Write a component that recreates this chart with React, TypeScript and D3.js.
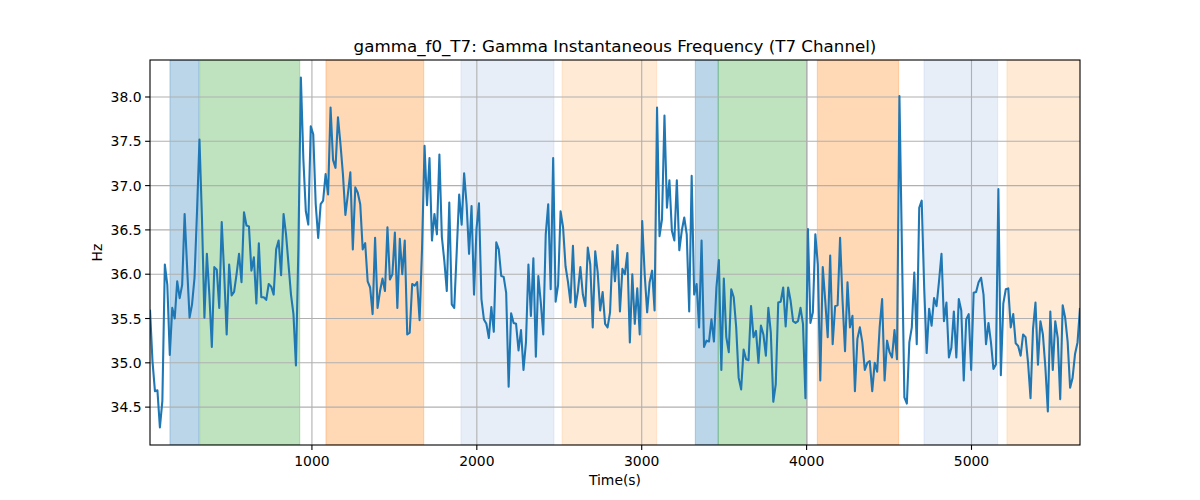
import * as d3 from "d3";

// gamma f0 samples, one every DT seconds starting at T0
const T0 = 18;
const DT = 15;
const hz = [
  35.6, 35.02, 34.68, 34.69, 34.27, 34.57, 36.11, 35.88, 35.09, 35.62,
  35.5, 35.92, 35.73, 35.88, 36.68, 36.08, 35.51, 35.66, 35.96, 36.7,
  37.52, 36.64, 35.51, 36.23, 35.77, 35.18, 36.08, 36.05, 35.62, 36.59,
  36.0, 35.32, 36.11, 35.76, 35.8, 36.0, 36.23, 35.91, 36.7, 36.55,
  36.54, 36.04, 36.19, 35.67, 36.35, 35.74, 35.74, 35.71, 35.89, 35.86,
  35.77, 36.28, 36.38, 35.99, 36.68, 36.45, 36.11, 35.77, 35.55, 34.97,
  36.3, 38.22, 37.3, 36.71, 36.56, 37.67, 37.58, 36.79, 36.41, 36.79,
  36.83, 37.13, 36.9, 37.88, 37.29, 37.2, 37.77, 37.47, 37.13, 36.67,
  36.9, 37.15, 36.28, 36.98, 36.92, 36.79, 36.28, 36.35, 35.92, 35.85,
  35.55, 36.41, 35.62, 35.81, 35.95, 35.81, 36.53, 35.94, 36.0, 36.47,
  35.62, 36.4, 36.0, 36.38, 35.32, 35.34, 35.89, 35.87, 35.91, 35.48,
  36.3, 37.45, 36.78, 37.31, 36.38, 36.68, 36.45, 37.35, 36.42, 36.15,
  35.81, 36.81, 35.66, 35.62, 36.25, 36.9, 36.56, 37.14, 36.79, 36.23,
  36.77, 35.77, 36.51, 36.8, 35.72, 35.49, 35.44, 35.28, 35.63, 35.35,
  36.36, 36.28, 35.98, 35.97, 35.79, 34.73, 35.56, 35.45, 35.44, 35.14,
  35.37, 34.92, 35.23, 36.11, 35.53, 36.18, 35.07, 35.98, 35.68, 35.32,
  36.45, 36.79, 35.83, 37.31, 35.69, 35.88, 36.71, 36.53, 36.09, 35.91,
  35.68, 36.32, 35.63, 35.81, 36.08, 35.77, 35.64, 36.3, 36.11, 35.4,
  36.26, 36.02, 35.59, 35.8, 35.44, 35.4, 35.57, 36.26, 35.92, 36.33,
  35.58, 36.06, 36.0, 36.24, 35.23, 36.0, 35.44, 35.84, 35.32, 36.6,
  36.0, 35.57, 35.91, 36.04, 35.59, 37.88, 36.43, 36.62, 37.79, 36.75,
  37.06, 36.49, 36.38, 37.06, 36.27, 36.49, 36.64, 36.45, 35.58, 37.11,
  35.77, 35.89, 35.4, 36.38, 35.18, 35.25, 35.24, 35.49, 35.24, 35.85,
  36.16, 34.92, 35.95, 35.29, 35.12, 35.83, 35.74, 35.4, 34.83, 34.7,
  35.15, 35.04, 35.03, 35.64, 35.29, 35.36, 35.0, 35.42, 35.32, 35.08,
  35.62, 35.34, 34.56, 34.76, 35.68, 35.69, 35.85, 35.41, 35.85, 35.7,
  35.47, 35.45, 35.47, 35.62, 35.44, 34.6, 36.51, 35.45, 35.57, 36.45,
  36.11, 34.8, 36.08, 35.7, 35.29, 36.21, 35.21, 35.64, 35.65, 36.41,
  35.7, 35.13, 35.91, 35.4, 35.53, 34.68, 35.27, 35.4, 35.23, 34.92,
  35.0, 35.02, 34.68, 35.0, 34.9, 35.4, 35.72, 34.8, 35.25, 35.12,
  35.06, 35.37, 35.04, 38.01, 36.3, 34.61, 34.54, 35.23, 35.4, 36.02,
  35.21, 36.75, 36.83, 35.85, 35.11, 35.61, 35.42, 35.73, 35.64, 35.92,
  36.23, 35.47, 35.68, 35.06, 35.17, 35.58, 35.06, 35.72, 35.59, 34.8,
  35.49, 35.55, 34.92, 35.79, 35.8, 35.91, 35.96, 35.77, 35.21, 35.45,
  35.23, 34.93, 34.98, 36.96, 34.86, 35.67, 35.83, 35.84, 35.4, 35.55,
  35.22, 35.19, 35.08, 35.32, 35.29, 35.0, 34.6, 35.38, 35.68, 34.98,
  35.47, 35.32, 34.95, 34.45, 35.58, 34.92, 35.47, 35.28, 34.59, 35.65,
  35.51, 35.24, 34.72, 34.83, 35.1, 35.23, 35.62,
];

const xTicks = [1000, 2000, 3000, 4000, 5000];
const yTicks = [34.5, 35.0, 35.5, 36.0, 36.5, 37.0, 37.5, 38.0];

// shaded condition periods (seconds)
const spanStart = [139, 319, 1085, 1904, 2517, 3325, 3464, 4065, 4712, 5215];
const spanEnd = [313, 926, 1678, 2468, 3091, 3464, 4004, 4558, 5159, 5670];
const spanKind = ["b", "g", "o", "lb", "lo", "b", "g", "o", "lb", "lo"];

const kindColor: Record<string, string> = {
  b: "#1f77b4",
  g: "#2ca02c",
  o: "#ff7f0e",
  lb: "#aec7e8",
  lo: "#ffbb78",
};

const width = 1200;
const height = 500;
const left = 150;
const right = 1080;
const top = 60;
const bottom = 445;
const font = "DejaVu Sans, sans-serif";

export default function App() {
  const times = hz.map((_, i) => T0 + i * DT);
  const x = d3
    .scaleLinear()
    .domain([times[0], times[times.length - 1]])
    .range([left, right]);

  const [lo, hi] = d3.extent(hz) as [number, number];
  const pad = (hi - lo) * 0.05;
  const y = d3
    .scaleLinear()
    .domain([lo - pad, hi + pad])
    .range([bottom, top]);

  const line = d3
    .line<number>()
    .x((_, i) => x(times[i]))
    .y((d) => y(d));

  return (
    <svg
      width={width}
      height={height}
      style={{ position: "absolute", left: 0, top: 0, background: "#fff" }}
    >
      <defs>
        <clipPath id="plot">
          <rect x={left} y={top} width={right - left} height={bottom - top} />
        </clipPath>
      </defs>
      <g clipPath="url(#plot)">
        {spanStart.map((s, i) => (
          <rect
            key={i}
            x={x(s)}
            y={top}
            width={x(spanEnd[i]) - x(s)}
            height={bottom - top}
            fill={kindColor[spanKind[i]]}
            fillOpacity={0.3}
            stroke={kindColor[spanKind[i]]}
            strokeOpacity={0.3}
            strokeWidth={1}
          />
        ))}
        {xTicks.map((t) => (
          <line key={t} x1={x(t)} x2={x(t)} y1={top} y2={bottom} stroke="#b0b0b0" strokeWidth={1.1} />
        ))}
        {yTicks.map((t) => (
          <line key={t} x1={left} x2={right} y1={y(t)} y2={y(t)} stroke="#b0b0b0" strokeWidth={1.1} />
        ))}
        <path
          d={line(hz) as string}
          fill="none"
          stroke="#1f77b4"
          strokeWidth={2.08}
          strokeLinejoin="round"
        />
      </g>
      <rect x={left} y={top} width={right - left} height={bottom - top} fill="none" stroke="#000" strokeWidth={1.1} />
      {xTicks.map((t) => (
        <g key={t}>
          <line x1={x(t)} x2={x(t)} y1={bottom} y2={bottom + 4.9} stroke="#000" strokeWidth={1.1} />
          <text x={x(t)} y={466} textAnchor="middle" fontFamily={font} fontSize={13.9} fill="#000">
            {t}
          </text>
        </g>
      ))}
      {yTicks.map((t) => (
        <g key={t}>
          <line x1={left - 4.9} x2={left} y1={y(t)} y2={y(t)} stroke="#000" strokeWidth={1.1} />
          <text x={left - 8.5} y={y(t) + 5} textAnchor="end" fontFamily={font} fontSize={13.9} fill="#000">
            {t.toFixed(1)}
          </text>
        </g>
      ))}
      <text x={(left + right) / 2} y={485} textAnchor="middle" fontFamily={font} fontSize={13.9} fill="#000">
        Time(s)
      </text>
      <text
        transform={`translate(102,${(top + bottom) / 2}) rotate(-90)`}
        textAnchor="middle"
        fontFamily={font}
        fontSize={13.9}
        fill="#000"
      >
        Hz
      </text>
      <text x={(left + right) / 2} y={52} textAnchor="middle" fontFamily={font} fontSize={16.7} fill="#000">
        gamma_f0_T7: Gamma Instantaneous Frequency (T7 Channel)
      </text>
    </svg>
  );
}
